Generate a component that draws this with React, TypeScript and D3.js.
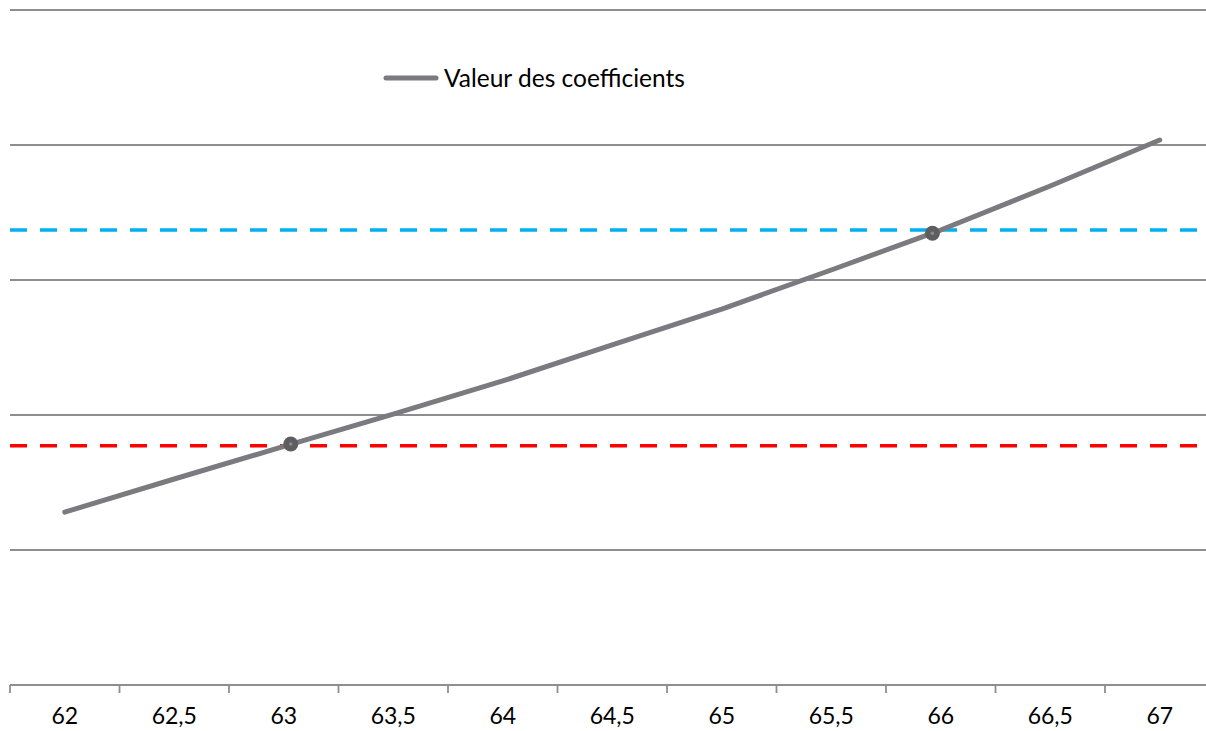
import React from "react";
import * as d3 from "d3";

const categories = [62, 62.5, 63, 63.5, 64, 64.5, 65, 65.5, 66, 66.5, 67];
const categoryLabels = ["62", "62,5", "63", "63,5", "64", "64,5", "65", "65,5", "66", "66,5", "67"];
const coefficientValues = [1.281, 1.526, 1.767, 2.007, 2.252, 2.519, 2.785, 3.074, 3.37, 3.696, 4.037];
const gridValues = [0, 1, 2, 3, 4, 5];
const redThreshold = 1.773;
const blueThreshold = 3.37;
const markerX = [63.032, 65.962];
const markerY = [1.785, 3.346];
const seriesName = "Valeur des coefficients";

const W = 1206;
const H = 731;

export default function App() {
  const step = 0.5;
  const x = d3
    .scaleLinear()
    .domain([categories[0] - step / 2, categories[categories.length - 1] + step / 2])
    .range([10, 10 + categories.length * 109.5]);
  const y = d3.scaleLinear().domain([0, 5]).range([685, 10]);

  const line = d3
    .line<number>()
    .x((_, i) => x(categories[i]))
    .y((d) => y(d));

  const boundaries = d3.range(categories.length + 1).map((i) => categories[0] - step / 2 + i * step);
  const font = "Lato, 'Noto Sans', sans-serif";
  const gridColor = "#8e8e8e";

  return (
    <svg
      width={W}
      height={H}
      style={{ position: "absolute", left: 0, top: 0, display: "block", background: "#fff" }}
    >
      {gridValues.map((g) => (
        <line key={g} x1={10} x2={W} y1={y(g)} y2={y(g)} stroke={gridColor} strokeWidth={1.8} />
      ))}
      {boundaries.map((b, i) => (
        <line key={i} x1={x(b)} x2={x(b)} y1={y(0)} y2={y(0) + 8} stroke={gridColor} strokeWidth={1.8} />
      ))}
      {categories.map((c, i) => (
        <text
          key={c}
          x={x(c)}
          y={724}
          textAnchor="middle"
          fontFamily={font}
          fontSize={23}
          fill="#000"
        >
          {categoryLabels[i]}
        </text>
      ))}
      <line
        x1={10}
        x2={W}
        y1={y(redThreshold)}
        y2={y(redThreshold)}
        stroke="#ff0000"
        strokeWidth={3.5}
        strokeDasharray="17 13"
      />
      <line
        x1={10}
        x2={W}
        y1={y(blueThreshold)}
        y2={y(blueThreshold)}
        stroke="#00b0f0"
        strokeWidth={3.5}
        strokeDasharray="17 13"
      />
      <path
        d={line(coefficientValues) || ""}
        fill="none"
        stroke="#7b7b7f"
        strokeWidth={5}
        strokeLinecap="round"
        strokeLinejoin="round"
      />
      {markerX.map((mx, i) => (
        <g key={i}>
          <circle cx={x(mx)} cy={y(markerY[i])} r={7.5} fill="#5e5e61" />
          <circle cx={x(mx)} cy={y(markerY[i])} r={1.8} fill="#8a8a8c" />
        </g>
      ))}
      <line x1={386} x2={436} y1={78} y2={78} stroke="#7b7b7f" strokeWidth={5} strokeLinecap="round" />
      <text x={444} y={87} fontFamily={font} fontSize={24.5} fill="#000">
        {seriesName}
      </text>
    </svg>
  );
}
